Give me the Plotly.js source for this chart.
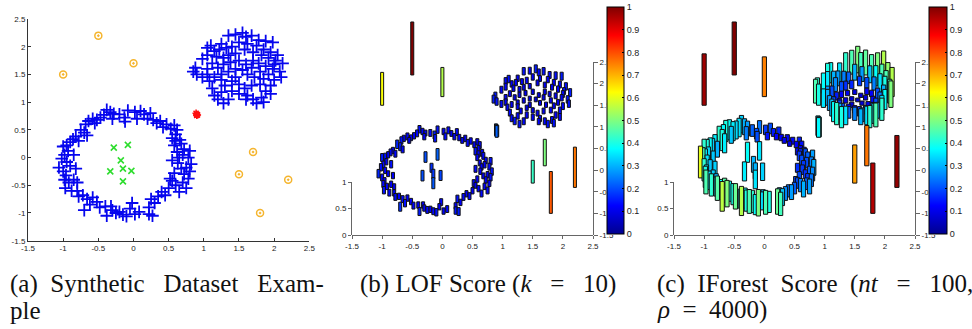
<!DOCTYPE html>
<html><head><meta charset="utf-8">
<script src="https://cdn.plot.ly/plotly-3.0.1.min.js"></script>
<style>html,body{margin:0;padding:0;background:#fff}#chart{width:972px;height:329px}</style>
</head><body><div id="chart"></div>
<script>
// ---- Data: points of the synthetic dataset ----
const ringX = [-0.38,-0.33,-0.28,-0.42,-0.47,-0.52,-0.58,-0.64,-0.68,-0.55,-0.30,-0.20,-0.13,-0.08,0.02,0.10,0.15,0.20,0.24,0.28,0.33,0.38,0.42,0.47,0.53,0.58,0.62,0.60,0.55,0.66,-0.70,-0.66,-0.75,-0.12,0.05,
 -0.82,-0.86,-0.90,-0.95,-1.00,-0.93,-0.98,-1.02,-0.95,-0.90,-1.06,-1.00,-0.96,-0.98,-0.92,-0.97,-0.85,-0.80,-0.88,-0.80,-0.78,-0.72,-0.85,-0.82,-0.78,
 -0.66,-0.62,-0.58,-0.52,-0.48,-0.40,-0.38,-0.30,-0.25,-0.20,-0.15,-0.10,-0.05,-0.02,0.02,0.08,0.22,0.25,0.30,0.35,0.40,0.45,0.22,0.27,-0.70,-0.32,
 0.50,0.55,0.60,0.65,0.70,0.75,0.78,0.80,0.72,0.68,0.75,0.82,0.78,0.70,0.65,0.80,0.72,0.68,0.58,0.62,0.55,0.63,0.58,0.52,0.60];
const ringY = [0.86,0.82,0.79,0.77,0.72,0.68,0.70,0.66,0.60,0.62,0.70,0.78,0.72,0.85,0.82,0.84,0.78,0.70,0.80,0.68,0.62,0.66,0.55,0.60,0.52,0.58,0.50,0.42,0.35,0.32,0.45,0.40,0.50,0.65,0.70,
 0.38,0.33,0.28,0.22,0.20,0.12,0.05,-0.02,-0.08,-0.15,-0.18,-0.25,-0.32,-0.40,-0.45,-0.55,-0.40,-0.45,-0.60,-0.60,-0.70,-0.68,0.05,-0.20,0.30,
 -0.75,-0.85,-0.72,-0.80,-0.90,-0.88,-1.05,-0.95,-1.00,-0.98,-1.03,-1.06,-0.92,-0.82,-1.02,-0.98,-0.90,-0.75,-0.82,-0.70,-0.62,-0.68,-1.02,-1.05,-0.95,-0.88,
 -0.55,-0.42,-0.50,-0.62,-0.45,-0.55,-0.38,-0.25,-0.30,-0.20,-0.18,-0.12,0.00,0.05,0.00,0.12,0.15,0.25,0.22,0.10,-0.05,-0.10,-0.28,-0.38,0.30];
const clusterX = [1.35,1.45,1.55,1.60,1.68,1.78,1.88,1.98,1.25,1.10,1.05,1.15,1.22,1.32,1.40,1.50,1.62,1.75,1.85,1.95,2.05,2.12,2.02,1.92,1.82,1.70,1.58,1.45,1.35,1.28,
 1.18,1.05,0.98,0.88,0.85,0.90,0.98,1.05,1.12,1.20,1.28,1.38,1.50,1.60,1.68,1.78,1.88,1.98,2.08,2.10,2.00,1.92,1.85,1.80,1.72,1.62,1.55,1.45,1.35,1.25,
 1.15,1.08,1.12,1.15,1.20,1.25,1.30,1.40,1.50,1.58,1.62,1.70,1.75,1.82,1.88,1.95,1.80,1.68,1.50,1.40,1.35,1.28,1.05,1.95,1.60,1.45,1.70,1.25,1.85,2.00];
const clusterY = [2.20,2.22,2.25,2.18,2.20,2.12,2.10,2.08,2.05,2.02,1.98,1.92,1.95,1.98,2.00,2.08,2.05,2.02,1.95,1.90,1.85,1.70,1.75,1.80,1.85,1.90,1.95,1.88,1.85,1.80,
 1.82,1.85,1.78,1.62,1.55,1.50,1.45,1.60,1.70,1.62,1.68,1.72,1.75,1.68,1.62,1.70,1.65,1.60,1.55,1.45,1.40,1.50,1.42,1.55,1.45,1.50,1.58,1.60,1.55,1.50,
 1.45,1.38,1.25,1.12,1.05,1.18,1.30,1.38,1.32,1.25,1.12,1.05,0.98,1.08,1.20,1.30,1.32,1.30,1.15,1.20,1.05,0.98,1.50,1.15,1.05,1.45,1.75,1.40,1.00,1.68];
const innerX = [-0.28,-0.08,-0.18,-0.15,-0.33,-0.03,-0.15];
const innerY = [0.18,0.23,-0.05,-0.20,-0.25,-0.24,-0.43];
const outX = [-1.0,-0.5,0.0,1.7,1.5,2.2,1.8];
const outY = [1.5,2.2,1.7,0.1,-0.3,-0.4,-1.0];
const starX = [0.90,0.90,0.89,0.91];
const starY = [0.78,0.76,0.80,0.77];

// ---- Scores: LOF (k = 10) ----
const lofRing = [0.14,0.12,0.11,0.13,0.12,0.11,0.13,0.12,0.14,0.11,0.12,0.13,0.15,0.14,0.12,0.13,0.11,0.12,0.13,0.12,0.11,0.12,0.13,0.12,0.11,0.12,0.13,0.12,0.14,0.13,0.15,0.13,0.16,0.14,0.13,
 0.12,0.13,0.12,0.14,0.15,0.12,0.13,0.14,0.12,0.11,0.16,0.13,0.12,0.13,0.12,0.14,0.12,0.11,0.13,0.12,0.13,0.12,0.14,0.12,0.13,
 0.13,0.14,0.12,0.12,0.13,0.12,0.15,0.12,0.13,0.12,0.13,0.14,0.12,0.13,0.12,0.13,0.12,0.14,0.12,0.13,0.12,0.13,0.14,0.15,0.17,0.12,
 0.12,0.11,0.12,0.13,0.12,0.13,0.12,0.14,0.12,0.11,0.12,0.14,0.13,0.12,0.12,0.14,0.12,0.13,0.12,0.11,0.13,0.12,0.12,0.13,0.12];
const lofCluster = [0.14,0.13,0.15,0.13,0.14,0.13,0.14,0.15,0.12,0.14,0.13,0.12,0.12,0.11,0.12,0.12,0.11,0.12,0.12,0.13,0.14,0.15,0.13,0.12,0.11,0.11,0.11,0.10,0.11,0.11,
 0.12,0.13,0.13,0.15,0.15,0.14,0.13,0.12,0.11,0.10,0.10,0.10,0.10,0.09,0.10,0.10,0.11,0.12,0.14,0.14,0.13,0.11,0.11,0.10,0.10,0.09,0.09,0.09,0.10,0.10,
 0.11,0.12,0.13,0.13,0.14,0.12,0.11,0.10,0.10,0.11,0.12,0.13,0.14,0.13,0.12,0.13,0.11,0.11,0.12,0.12,0.13,0.14,0.12,0.13,0.12,0.10,0.10,0.11,0.14,0.13];
const lofInner = [0.20,0.22,0.17,0.18,0.20,0.19,0.21];
const lofOut = [0.62,1.00,0.55,0.50,0.43,0.76,0.79];
const lofStar = [0.22,0.22,0.22,0.22];

// ---- Scores: IForest (nt = 100, rho = 4000) ----
const ifRing = [0.33,0.30,0.28,0.35,0.34,0.36,0.38,0.40,0.37,0.32,0.25,0.22,0.20,0.24,0.18,0.20,0.15,0.12,0.16,0.12,0.11,0.13,0.10,0.13,0.12,0.15,0.14,0.12,0.13,0.17,0.40,0.36,0.42,0.20,0.14,
 0.36,0.33,0.38,0.40,0.42,0.34,0.36,0.44,0.35,0.32,0.60,0.42,0.36,0.40,0.35,0.45,0.33,0.30,0.42,0.36,0.46,0.38,0.32,0.33,0.30,
 0.46,0.50,0.38,0.40,0.48,0.36,0.55,0.40,0.45,0.42,0.38,0.50,0.34,0.30,0.45,0.40,0.36,0.28,0.32,0.26,0.23,0.28,0.48,0.44,0.56,0.38,
 0.22,0.20,0.25,0.30,0.22,0.28,0.24,0.26,0.18,0.17,0.22,0.30,0.25,0.20,0.18,0.28,0.22,0.20,0.18,0.20,0.17,0.18,0.20,0.19,0.16];
const ifCluster = [0.42,0.45,0.50,0.44,0.47,0.45,0.50,0.55,0.35,0.38,0.40,0.30,0.28,0.25,0.22,0.30,0.28,0.32,0.38,0.45,0.52,0.55,0.45,0.35,0.25,0.20,0.18,0.16,0.17,0.20,
 0.26,0.35,0.38,0.42,0.45,0.40,0.35,0.28,0.20,0.15,0.12,0.10,0.09,0.08,0.09,0.12,0.20,0.30,0.45,0.50,0.38,0.25,0.20,0.13,0.11,0.08,0.07,0.08,0.10,0.13,
 0.20,0.28,0.32,0.38,0.42,0.30,0.20,0.12,0.14,0.18,0.26,0.35,0.42,0.38,0.30,0.35,0.20,0.16,0.25,0.22,0.35,0.40,0.30,0.42,0.30,0.10,0.12,0.18,0.45,0.40];
const ifInner = [0.38,0.35,0.30,0.30,0.36,0.33,0.35];
const ifOut = [0.97,1.00,0.75,0.76,0.72,0.98,0.95];
const ifStar = [0.37,0.37,0.37,0.37];

const xTicks = [-1.5,-1,-0.5,0,0.5,1,1.5,2,2.5];
const xTickText = ['-1.5','-1','-0.5','0','0.5','1','1.5','2','2.5'];
const zTicks = [0,0.5,1];
const zTickText = ['0','0.5','1'];
const cbTicks = [0,0.1,0.2,0.3,0.4,0.5,0.6,0.7,0.8,0.9,1];
const NB = '\u00a0';
const captions = [
  '(a)' + NB.repeat(2) + 'Synthetic' + NB.repeat(3) + 'Dataset' + NB.repeat(3) + 'Exam-',
  'ple',
  '(b) LOF Score (<i>k</i>' + NB.repeat(3) + '=' + NB.repeat(3) + '10)',
  '(c)' + NB.repeat(2) + 'IForest' + NB.repeat(2) + 'Score' + NB.repeat(2) + '(<i>nt</i>' + NB.repeat(3) + '=' + NB.repeat(3) + '100,',
  '<i>ρ</i>' + NB.repeat(2) + '=' + NB.repeat(2) + '4000)'
];

// ---- geometry of the projected 3-D panels ----
const W = 972, Hh = 329;
const pxPerDepth = 173/4;      // depth axis: 4 units over 173 px
const pxPerScore = 53;          // score axis: 1 unit = 53 px
const K = pxPerScore/pxPerDepth;
const plotTopPx = 5, plotBotPx = 235;
const depthTop = -1.5 + (plotBotPx-plotTopPx)/pxPerDepth;
const fy = p => (Hh - p)/Hh;
const jet = [[0,'#00008f'],[0.125,'#0000ff'],[0.375,'#00ffff'],[0.625,'#ffff00'],[0.875,'#ff0000'],[1,'#800000']];

const allX = [].concat(ringX, clusterX, innerX, outX, starX);
const allY = [].concat(ringY, clusterY, innerY, outY, starY);
const allLof = [].concat(lofRing, lofCluster, lofInner, lofOut, lofStar);
const allIf = [].concat(ifRing, ifCluster, ifInner, ifOut, ifStar);
const order = allX.map((_, i) => i).sort((a, b) => allY[b] - allY[a]);

function barTrace(scores, xa, ya, width, cbX, cbThick) {
  return {
    type: 'bar', xaxis: xa, yaxis: ya,
    x: order.map(i => allX[i]),
    base: order.map(i => allY[i]),
    y: order.map(i => scores[i] * K),
    width: width, hoverinfo: 'skip', showlegend: false,
    marker: {
      color: order.map(i => scores[i]), colorscale: jet, cmin: 0, cmax: 1,
      line: {color: '#111', width: 1},
      showscale: true,
      colorbar: {
        x: cbX, xanchor: 'left', y: fy(234), yanchor: 'bottom',
        len: 227/Hh, lenmode: 'fraction', thickness: cbThick, thicknessmode: 'pixels',
        outlinewidth: 1, outlinecolor: '#000', bgcolor: '#fff', xpad: 0, ypad: 0,
        tickvals: cbTicks, ticks: 'inside', ticklen: 2, tickcolor: '#000',
        tickfont: {family: 'Liberation Sans, Arial', size: 9, color: '#222'}
      }
    }
  };
}

const tickFont = {family: 'Liberation Sans, Arial', size: 8, color: '#222'};

const traces = [
  {type:'scatter', mode:'markers', x: ringX.concat(clusterX), y: ringY.concat(clusterY), xaxis:'x', yaxis:'y',
   marker:{symbol:'cross-thin-open', size:9, color:'#0606ee', line:{color:'#0606ee', width:1.8}}, hoverinfo:'skip'},
  {type:'scatter', mode:'markers', x: innerX, y: innerY, xaxis:'x', yaxis:'y',
   marker:{symbol:'x-thin-open', size:6, color:'#2fdd2f', line:{color:'#2fdd2f', width:1.6}}, hoverinfo:'skip'},
  {type:'scatter', mode:'markers', x: outX, y: outY, xaxis:'x', yaxis:'y',
   marker:{symbol:'circle-open-dot', size:7, color:'#f5b52e', line:{color:'#f5b52e', width:1.5}}, hoverinfo:'skip'},
  {type:'scatter', mode:'markers', x: starX, y: starY, xaxis:'x', yaxis:'y',
   marker:{symbol:'asterisk-open', size:6, color:'#ff1010', line:{color:'#ff1010', width:1.5}}, hoverinfo:'skip'},
  barTrace(allLof, 'x2', 'y2', 0.05, 607/W, 17),
  barTrace(allIf, 'x3', 'y5', 0.07, 929/W, 18),
  {type:'scatter', x:[], y:[], xaxis:'x2', yaxis:'y3', hoverinfo:'skip'},
  {type:'scatter', x:[], y:[], xaxis:'x2', yaxis:'y4', hoverinfo:'skip'},
  {type:'scatter', x:[], y:[], xaxis:'x3', yaxis:'y6', hoverinfo:'skip'},
  {type:'scatter', x:[], y:[], xaxis:'x3', yaxis:'y7', hoverinfo:'skip'}
];

const baseAx = {showgrid:false, zeroline:false, showline:true, tickfont:tickFont, fixedrange:true};
function xAx(d0, d1, anchor) {
  return Object.assign({}, baseAx, {domain:[d0/W, d1/W], range:[-1.5,2.5], anchor:anchor,
    tickvals:xTicks, ticktext:xTickText, ticks:'outside', ticklen:3, linecolor:'#666', tickcolor:'#666'});
}
function depthAx(anchor) {
  return Object.assign({}, baseAx, {domain:[fy(235), fy(62)], range:[-1.5,2.5], anchor:anchor, side:'right',
    tickvals:[-1.5,-1,-0.5,0,0.5,1,1.5,2,2.5], ticktext:['-1.5','-1','-0.5','0','0.5','1','1.5','2','2.5'],
    ticks:'outside', ticklen:4, linecolor:'#666', tickcolor:'#666'});
}
function zAx(anchor) {
  return Object.assign({}, baseAx, {domain:[fy(235), fy(182)], range:[0,1], anchor:anchor, side:'left',
    tickvals:zTicks, ticktext:zTickText, ticks:'outside', ticklen:3, linecolor:'#666', tickcolor:'#666'});
}

const layout = {
  width: W, height: Hh, margin:{l:0,r:0,t:0,b:0,pad:0},
  paper_bgcolor:'#fff', plot_bgcolor:'rgba(0,0,0,0)', showlegend:false, barmode:'overlay',
  xaxis: Object.assign({}, baseAx, {domain:[28/W, 309.3/W], range:[-1.5,2.5], anchor:'y',
    tickvals:xTicks, ticktext:xTickText, ticks:'inside', ticklen:3, linecolor:'#333', tickcolor:'#333'}),
  yaxis: Object.assign({}, baseAx, {domain:[fy(240.7), fy(19)], range:[-1.5,2.5], anchor:'x',
    tickvals:xTicks, ticktext:xTickText, ticks:'inside', ticklen:3, linecolor:'#333', tickcolor:'#333'}),
  xaxis2: xAx(352, 593, 'y2'),
  yaxis2: {domain:[fy(plotBotPx), fy(plotTopPx)], range:[-1.5, depthTop], anchor:'x2', visible:false, fixedrange:true},
  yaxis3: depthAx('x2'),
  yaxis4: zAx('x2'),
  xaxis3: xAx(674, 915, 'y5'),
  yaxis5: {domain:[fy(plotBotPx), fy(plotTopPx)], range:[-1.5, depthTop], anchor:'x3', visible:false, fixedrange:true},
  yaxis6: depthAx('x3'),
  yaxis7: zAx('x3'),
  annotations: [
    {text:captions[0], x:8/W, y:fy(284)},
    {text:captions[1], x:8/W, y:fy(310)},
    {text:captions[2], x:358/W, y:fy(284)},
    {text:captions[3], x:655/W, y:fy(284)},
    {text:captions[4], x:655/W, y:fy(310)}
  ].map(a => Object.assign(a, {xref:'paper', yref:'paper', xanchor:'left', yanchor:'middle', showarrow:false,
     font:{family:'Liberation Serif, Times New Roman, serif', size:25, color:'#111'}}))
};

Plotly.newPlot('chart', traces, layout, {staticPlot:true, displayModeBar:false});
</script></body></html>
